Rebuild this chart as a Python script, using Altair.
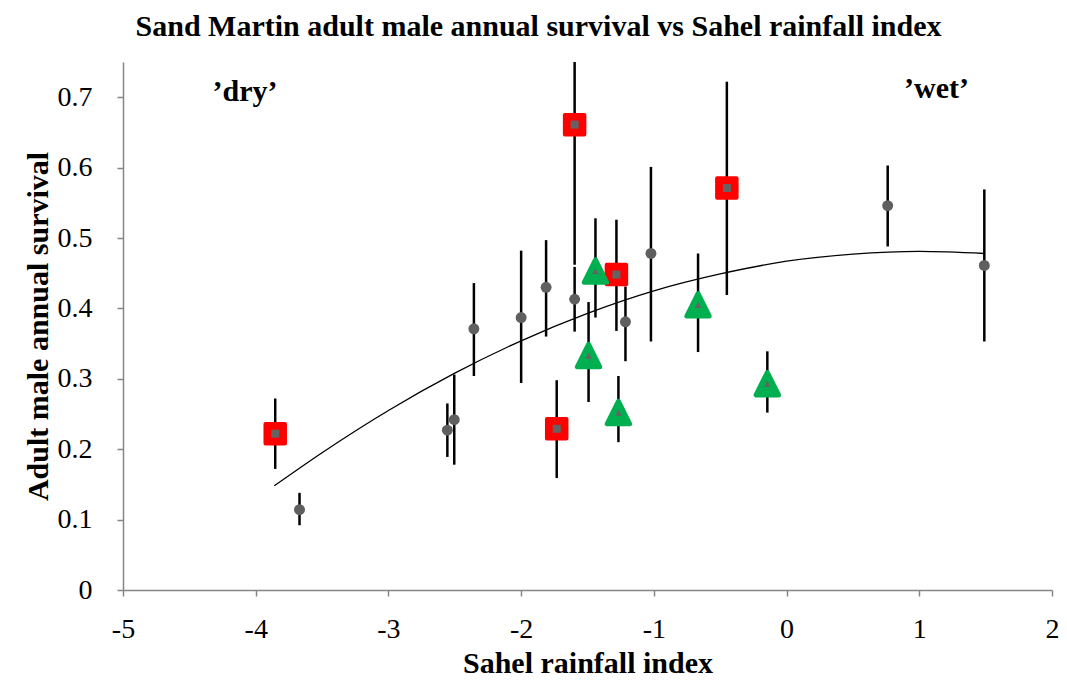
import altair as alt
import pandas as pd

# ---- data ----
circle_x = [-3.67, -2.556, -2.504, -2.356, -2.0, -1.812, -1.597, -1.214, -1.022, 0.762, 1.49]
circle_y = [0.114, 0.227, 0.242, 0.371, 0.387, 0.430, 0.413, 0.381, 0.478, 0.546, 0.461]
circle_lo = [0.092, 0.189, 0.178, 0.304, 0.294, 0.360, 0.367, 0.325, 0.353, 0.488, 0.353]
circle_hi = [0.138, 0.265, 0.306, 0.436, 0.482, 0.497, 0.459, 0.431, 0.601, 0.603, 0.569]

square_x = [-3.853, -1.732, -1.597, -1.282, -0.45]
square_y = [0.222, 0.229, 0.661, 0.448, 0.571]
square_lo = [0.172, 0.159, 0.462, 0.368, 0.419]
square_hi = [0.272, 0.298, 0.75, 0.526, 0.722]

tri_x = [-1.492, -1.44, -1.267, -0.667, -0.145]
tri_y = [0.333, 0.453, 0.252, 0.405, 0.293]
tri_lo = [0.267, 0.387, 0.210, 0.338, 0.252]
tri_hi = [0.409, 0.528, 0.304, 0.478, 0.339]

trend_x = [-3.86, -3.5, -3.0, -2.5, -2.0, -1.5, -1.0, -0.5, 0.0, 0.5, 1.0, 1.49]
trend_y = [0.148, 0.195, 0.255, 0.308, 0.354, 0.393, 0.425, 0.449, 0.467, 0.477, 0.481, 0.478]

notes_text = ["\u2019dry\u2019", "\u2019wet\u2019"]
notes_x = [-4.08, 1.13]
notes_y = [0.708, 0.711]

x_ticks = [-5, -4, -3, -2, -1, 0, 1, 2]
y_ticks = [0, 0.1, 0.2, 0.3, 0.4, 0.5, 0.6, 0.7]

circles = pd.DataFrame({"x": circle_x, "y": circle_y, "lo": circle_lo, "hi": circle_hi})
squares = pd.DataFrame({"x": square_x, "y": square_y, "lo": square_lo, "hi": square_hi})
tris = pd.DataFrame({"x": tri_x, "y": tri_y, "lo": tri_lo, "hi": tri_hi})
trend = pd.DataFrame({"x": trend_x, "y": trend_y})
notes = pd.DataFrame({"t": notes_text, "x": notes_x, "y": notes_y})

FONT = "Liberation Serif"

xs = alt.Scale(domain=[-5, 2], nice=False, zero=False)
ys = alt.Scale(domain=[0, 0.75], nice=False)

X = alt.X("x:Q", scale=xs, axis=alt.Axis(values=x_ticks, title="Sahel rainfall index",
                                          labelPadding=19, titlePadding=5, labelFlush=False,
                                          labelExpr="toString(datum.value)"))
Y = alt.Y("y:Q", scale=ys, axis=alt.Axis(values=y_ticks, title="Adult male annual survival",
                                          labelPadding=25, titlePadding=4,
                                          labelExpr="datum.value == 0 ? '0' : format(datum.value, '.1f')"))


def bars(df):
    return alt.Chart(df).mark_rule(color="black", strokeWidth=2.5).encode(
        x=alt.X("x:Q", scale=xs), y=alt.Y("lo:Q", scale=ys), y2="hi:Q")


tri_path = "M0,-1L-1,1L1,1Z"

layers = [
    alt.Chart(trend).mark_line(color="black", strokeWidth=1.3, interpolate="monotone").encode(x=X, y=Y),
    bars(circles),
    alt.Chart(circles).mark_circle(color="#5f5f5f", size=120, opacity=1).encode(x=X, y=Y),
    bars(squares),
    alt.Chart(squares).mark_point(shape="square", filled=True, fill="#ff0000", stroke="#ff0000",
                                  strokeWidth=4, strokeJoin="round", size=380, opacity=1).encode(x=X, y=Y),
    alt.Chart(squares).mark_point(shape="square", filled=True, color="#646464", size=64, opacity=1).encode(x=X, y=Y),
    bars(tris),
    alt.Chart(tris).mark_point(shape=tri_path, filled=True, fill="#00b050", stroke="#00b050",
                               strokeWidth=5, strokeJoin="round", size=500, opacity=1).encode(x=X, y=Y),
    alt.Chart(tris).mark_point(shape=tri_path, filled=True, color="#646464", size=40, opacity=1).encode(x=X, y=Y),
    alt.Chart(notes).mark_text(font=FONT, fontSize=30, fontWeight="bold", color="black").encode(
        x=alt.X("x:Q", scale=xs), y=alt.Y("y:Q", scale=ys), text="t:N"),
]

chart = alt.layer(*layers).properties(
    width=929, height=528,
    title=alt.TitleParams("Sand Martin adult male annual survival vs Sahel rainfall index",
                          font=FONT, fontSize=30, fontWeight="bold", color="black",
                          anchor="middle", dx=-49, offset=19),
    autosize=alt.AutoSizeParams(type="none"),
    padding={"left": 115, "top": 54, "right": 7, "bottom": 90},
).configure_view(stroke=None).configure_axis(
    grid=False, domainColor="#868686", domainWidth=1.5, tickColor="#868686", tickWidth=1.5,
    tickSize=6, labelFont=FONT, labelFontSize=28, labelColor="black",
    titleFont=FONT, titleFontSize=30, titleFontWeight="bold", titleColor="black",
)

chart.save("out.html", embed_options={"renderer": "svg", "actions": False})
